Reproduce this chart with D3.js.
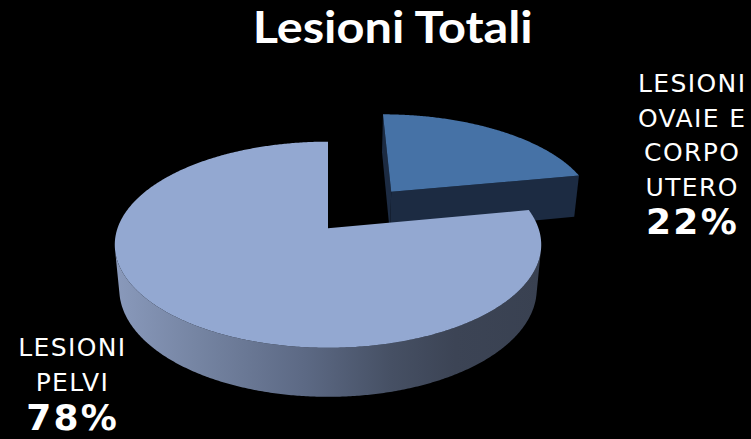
<!DOCTYPE html>
<html>
<head>
<meta charset="utf-8">
<script src="https://cdn.jsdelivr.net/npm/d3@7"></script>
<style>
  html, body { margin: 0; padding: 0; background: #000; }
  svg { display: block; }
</style>
</head>
<body>
<svg id="chart" width="751" height="439"></svg>
<script>
// ---- data ----
const title = "Lesioni Totali";
const categories = ["LESIONI OVAIE E CORPO UTERO", "LESIONI PELVI"];
const values = [22, 78];
const labelLines = [["LESIONI", "OVAIE E", "CORPO", "UTERO"], ["LESIONI", "PELVI"]];

// ---- styles ----
const topFill = ["#4672A6", "#93A8D1"];
const sideFill = ["#1C2B42", "url(#sideShade)"];
const cutFill = ["#1C2B42", "#3A4252"];
const explode = [0.5, 0];

const W = 751, H = 439;
const svg = d3.select("#chart");
svg.append("rect").attr("width", W).attr("height", H).attr("fill", "#000");

// shading of the front rim: light on the left, dark on the right
const grad = svg.append("defs").append("linearGradient")
  .attr("id", "sideShade").attr("gradientUnits", "userSpaceOnUse")
  .attr("x1", 113).attr("x2", 540).attr("y1", 0).attr("y2", 0);
[[0, "#8A9ABC"], [0.2, "#7584A2"], [0.45, "#5C6984"], [0.65, "#465064"], [0.8, "#3C4455"], [1, "#394151"]]
  .forEach(([o, c]) => grad.append("stop").attr("offset", o).attr("stop-color", c));

// ---- perspective view of a tilted disc ----
const view = { cx: 328, cy: 228.3, scale: 210.5, tilt: 28.5 * Math.PI / 180, dist: 5.517, depth: 0.242 };
const cosT = Math.cos(view.tilt), sinT = Math.sin(view.tilt);
const cam = [0, view.dist * sinT, view.dist * cosT];

function project([x, y, z]) {
  const v = y * cosT - z * sinT;
  const w = y * sinT + z * cosT;
  const k = view.dist / (view.dist - w);
  return [view.cx + view.scale * x * k, view.cy - view.scale * v * k];
}
const depthOf = ([x, y, z]) => y * sinT + z * cosT;
const facing = (n, p) =>
  n[0] * (cam[0] - p[0]) + n[1] * (cam[1] - p[1]) + n[2] * (cam[2] - p[2]) > 0;

const line = d3.line();
const poly = pts => line(pts.map(project)) + "Z";

const pie = d3.pie().sort(null).value(d => d);
const arcs = pie(values).map((a, i) => {
  const mid = (a.startAngle + a.endAngle) / 2;
  const off = [Math.sin(mid) * explode[i], 0, -Math.cos(mid) * explode[i]];
  return { ...a, i, off };
});

const rimPt = (a, off, y) => [off[0] + Math.sin(a), y, off[2] - Math.cos(a)];
const step = Math.PI / 360;

function drawSlice(a) {
  const g = svg.append("g").attr("class", "slice");
  const { off, startAngle: s, endAngle: e, i } = a;
  const h = -view.depth;
  const angles = d3.range(s, e, step).concat([e]);

  // outer rim: keep the runs that face the camera
  let run = [];
  const runs = [];
  angles.forEach(t => {
    const n = [Math.sin(t), 0, -Math.cos(t)];
    if (facing(n, rimPt(t, off, h / 2))) run.push(t);
    else if (run.length) { runs.push(run); run = []; }
  });
  if (run.length) runs.push(run);
  runs.forEach(r => {
    const pts = r.map(t => rimPt(t, off, 0)).concat(r.slice().reverse().map(t => rimPt(t, off, h)));
    g.append("path").attr("d", poly(pts)).attr("fill", sideFill[i]);
  });

  // the two cut faces
  const apexTop = [off[0], 0, off[2]], apexBot = [off[0], h, off[2]];
  [[s, [-Math.cos(s), 0, -Math.sin(s)]], [e, [Math.cos(e), 0, Math.sin(e)]]].forEach(([t, n]) => {
    const p = [off[0] + Math.sin(t) / 2, h / 2, off[2] - Math.cos(t) / 2];
    if (!facing(n, p)) return;
    g.append("path")
      .attr("d", poly([apexTop, rimPt(t, off, 0), rimPt(t, off, h), apexBot]))
      .attr("fill", cutFill[i]);
  });

  // top face
  const topPts = [apexTop].concat(angles.map(t => rimPt(t, off, 0)));
  g.append("path").attr("d", poly(topPts)).attr("fill", topFill[i]);
}

// paint the farthest slice first
arcs.slice().sort((p, q) => depthOf(p.off) - depthOf(q.off)).forEach(drawSlice);

// ---- title ----
svg.append("text")
  .attr("x", 392.7).attr("y", 43.3)
  .attr("text-anchor", "middle")
  .attr("textLength", 280).attr("lengthAdjust", "spacingAndGlyphs")
  .attr("fill", "#fff")
  .style("font-family", "Lato, 'Open Sans', sans-serif")
  .style("font-weight", "bold").style("font-size", "44px")
  .text(title);

// ---- data labels ----
const total = d3.sum(values);
const pct = d3.format(".0%");
const labelPos = [
  { x: 691.5, y: 92, step: 34.5, gap: 38 },
  { x: 71.7, y: 356, step: 34.5, gap: 39.5 }
];

arcs.forEach(a => {
  const pos = labelPos[a.i];
  const g = svg.append("g").attr("class", "label").attr("fill", "#fff")
    .attr("text-anchor", "middle")
    .style("font-family", "'DejaVu Sans', Verdana, sans-serif");
  const lines = labelLines[a.i];
  lines.forEach((t, k) => {
    g.append("text").attr("x", pos.x + 0.7).attr("y", pos.y + k * pos.step)
      .style("font-size", "25px").style("letter-spacing", "1.4px").text(t);
  });
  g.append("text")
    .attr("x", pos.x + 1).attr("y", pos.y + (lines.length - 1) * pos.step + pos.gap)
    .style("font-size", "36px").style("font-weight", "bold").style("letter-spacing", "2.3px")
    .text(pct(a.data / total));
});
</script>
</body>
</html>
